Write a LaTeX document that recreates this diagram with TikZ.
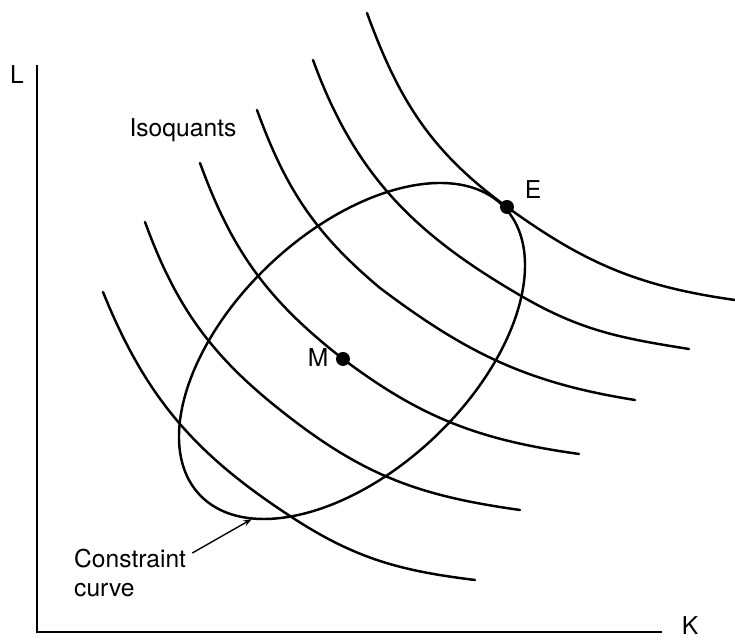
\documentclass[tikz,border=0pt]{standalone}
\usepackage{fontspec}
\setmainfont{TeX Gyre Heros}
\usetikzlibrary{arrows.meta}
\tikzset{
  isoquant/.style={line width=1.4pt,line cap=round},
  axisline/.style={line width=1.5pt},
  dotpt/.style={circle,fill,inner sep=0pt,minimum size=0.28cm},
}

\begin{document}
\begin{tikzpicture}[x=0.02cm,y=0.02cm,font=\fontsize{14}{17}\selectfont]
  \useasboundingbox (0,0) rectangle (735,641);
  % axes
  \coordinate (O) at (37,9);
  \coordinate (Ltop) at (37,576);
  \coordinate (Kend) at (662,9);
  \draw[axisline] (Ltop) -- (O) -- (Kend);
  \node (L) at (17,566) {L};
  \node (K) at (690,15) {K};
  % isoquants
  \draw[isoquant] (367,628) to[out=-70,in=144] (507,434) to[out=-36,in=172] (735,341);
  \draw[isoquant] (313,581) to[out=-70,in=150] (523,344) to[out=-30,in=171] (689,292);
  \draw[isoquant] (257,531) to[out=-70,in=140] (380,353) to[out=-37,in=171] (635,241);
  \draw[isoquant] (200,478) to[out=-70,in=142] (343,282) to[out=-37,in=172] (579,187);
  \draw[isoquant] (145,419) to[out=-70,in=143] (297,218) to[out=-37,in=172] (520,131);
  \draw[isoquant] (103,349) to[out=-68,in=147] (293,123) to[out=-33,in=173] (475,61);
  \node (iso) at (183,511) {Isoquants};
  % constraint curve
  \draw[isoquant,rotate around={43.35:(352,290)}] (352,290) ellipse [x radius=209.5,y radius=119.4];
  \node[align=left,anchor=west] (cc) at (68,68) {Constraint\\curve};
  \coordinate (ctip) at (252,122);
  \draw[line width=0.8pt,-{Stealth[length=5pt,width=3.5pt]}] ([yshift=-6pt]cc.north east) -- (ctip);
  % points
  \node[dotpt] (E) at (507,434) {};
  \node (Elab) at (533,451) {E};
  \node[dotpt] (M) at (343,282) {};
  \node (Mlab) at (318,283) {M};
\end{tikzpicture}
\end{document}
